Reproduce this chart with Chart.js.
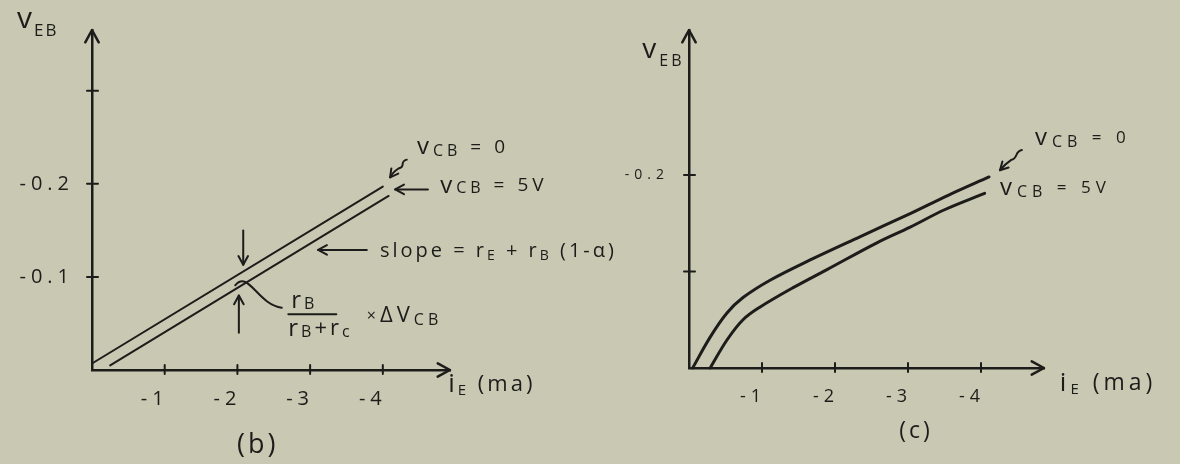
<!DOCTYPE html>
<html><head><meta charset="utf-8">
<script src="https://cdn.jsdelivr.net/npm/chart.js@4.4.1/dist/chart.umd.min.js"></script>
<style>
html,body{margin:0;padding:0;background:#c9c8b2;width:1180px;height:464px;overflow:hidden}
#b{position:absolute;left:0;top:0}
#c{position:absolute;left:580px;top:0}
</style></head><body>
<canvas id="c" width="600" height="464"></canvas>
<canvas id="b" width="660" height="464"></canvas>
<script>
// ---- data: panel (b), straight lines ----
const bIe0  = [0.0, -4.0];
const bVeb0 = [-0.007, -0.197];
const bIe5  = [-0.25, -4.08];
const bVeb5 = [-0.005, -0.187];
// ---- data: panel (c), curves ----
const cIe0  = [-0.05, -0.29, -0.52, -0.74, -1.11, -1.66, -2.34, -3.03, -3.55, -4.11];
const cVeb0 = [0, -0.032, -0.057, -0.073, -0.091, -0.112, -0.136, -0.160, -0.179, -0.198];
const cIe5  = [-0.29, -0.52, -0.74, -0.97, -1.42, -1.89, -2.58, -3.03, -3.50, -4.05];
const cVeb5 = [0, -0.029, -0.050, -0.063, -0.083, -0.102, -0.130, -0.146, -0.164, -0.181];
// ---- ticks ----
const bXTicks = [-1, -2, -3, -4];
const bXLabels = ['-1', '-2', '-3', '-4'];
const bYTicks = [-0.1, -0.2, -0.3];
const bYLabels = ['-0.1', '-0.2', ''];
const cXTicks = [-1, -2, -3, -4];
const cXLabels = ['-1', '-2', '-3', '-4'];
const cYTicks = [-0.1, -0.2];
const cYLabels = ['', '-0.2'];
const seriesNames = ['vCB = 0', 'vCB = 5V'];

const INK = '#1c1c1a';
const FONT = "'Open Sans', 'DejaVu Sans', sans-serif";

function pts(xs, ys){ return xs.map((x,i)=>({x:x, y:ys[i]})); }

function rich(ctx, x, y, parts, align, ls){
  ctx.save();
  ctx.fillStyle = INK;
  ctx.textBaseline = 'middle';
  ctx.textAlign = 'left';
  ctx.letterSpacing = (ls===undefined?3:ls)+'px';
  let w = 0;
  parts.forEach(p=>{ ctx.font = (p[1])+'px '+FONT; w += ctx.measureText(p[0]).width; });
  let cx = align === 'center' ? x - w/2 : x;
  parts.forEach(p=>{
    ctx.font = (p[1])+'px '+FONT;
    ctx.fillText(p[0], cx, y + (p[2]||0));
    cx += ctx.measureText(p[0]).width;
  });
  ctx.restore();
}
function head(ctx, x1, y1, x2, y2, len){
  const a = Math.atan2(y2-y1, x2-x1);
  ctx.beginPath();
  ctx.moveTo(x2 - len*Math.cos(a-0.5), y2 - len*Math.sin(a-0.5));
  ctx.lineTo(x2, y2);
  ctx.lineTo(x2 - len*Math.cos(a+0.5), y2 - len*Math.sin(a+0.5));
  ctx.stroke();
}
function arrow(ctx, x1, y1, x2, y2, len){
  ctx.beginPath(); ctx.moveTo(x1,y1); ctx.lineTo(x2,y2); ctx.stroke();
  head(ctx, x1, y1, x2, y2, len||10);
}
function squiggle(ctx, x1, y1, x2, y2){
  ctx.beginPath();
  ctx.moveTo(x1, y1);
  const mx = (x1+x2)/2, my = (y1+y2)/2;
  ctx.bezierCurveTo(x1-8, y1+2, mx+8, my-2, mx, my);
  ctx.quadraticCurveTo(mx-6, my+4, x2, y2);
  ctx.stroke();
  head(ctx, mx-4, my+3, x2, y2, 9);
}

function axesDeco(chart, xTicks, yTicks){
  const {ctx, scales:{x, y}} = chart;
  const ox = x.getPixelForValue(0), oy = y.getPixelForValue(0);
  ctx.save();
  ctx.strokeStyle = INK; ctx.lineWidth = 2.5; ctx.lineCap = 'round'; ctx.lineJoin = 'round';
  head(ctx, ox, oy, chart.chartArea.right, oy, 14);
  head(ctx, ox, oy, ox, chart.chartArea.top, 14);
  ctx.lineWidth = 2;
  xTicks.forEach(v=>{ const px = x.getPixelForValue(v); ctx.beginPath(); ctx.moveTo(px, oy-5); ctx.lineTo(px, oy+4); ctx.stroke(); });
  yTicks.forEach(v=>{ const py = y.getPixelForValue(v); ctx.beginPath(); ctx.moveTo(ox-5, py); ctx.lineTo(ox+6, py); ctx.stroke(); });
  ctx.restore();
}

const decoB = { id:'decoB',
  beforeDraw(chart){ chart.ctx.letterSpacing = '5px'; },
  afterDraw(chart){
  const {ctx, scales:{x, y}} = chart;
  const X = v=>x.getPixelForValue(v), Y = v=>y.getPixelForValue(v);
  axesDeco(chart, bXTicks, bYTicks);
  ctx.save();
  ctx.strokeStyle = INK; ctx.lineWidth = 2; ctx.lineCap = 'round'; ctx.lineJoin = 'round';
  rich(ctx, X(1.03), Y(-0.377), [['v',30],['EB',17,12]], 'left', 2);
  rich(ctx, X(-4.90), Y(0.016), [['i',26],['E',15,6],[' (ma)',22]], 'left', 3);
  rich(ctx, X(-2.28), Y(0.081), [['(b)',27]], 'center', 3);
  rich(ctx, X(-4.47), Y(-0.239), [['v',24],['CB',16,4],[' = 0',19]], 'left', 4);
  squiggle(ctx, X(-4.33), Y(-0.226), X(-4.10), Y(-0.207));
  rich(ctx, X(-4.79), Y(-0.198), [['v',24],['CB',16,3],[' = 5V',19]], 'left', 4);
  arrow(ctx, X(-4.62), Y(-0.194), X(-4.17), Y(-0.194), 10);
  arrow(ctx, X(-3.78), Y(-0.129), X(-3.11), Y(-0.129), 10);
  rich(ctx, X(-3.96), Y(-0.128), [['slope = r',20],['E',14,5],[' + r',20],['B',14,5],[' (1-α)',20]], 'left', 3);
  arrow(ctx, X(-2.08), Y(-0.150), X(-2.08), Y(-0.113), 10);
  arrow(ctx, X(-2.02), Y(-0.040), X(-2.02), Y(-0.080), 10);
  ctx.beginPath();
  ctx.moveTo(X(-1.97), Y(-0.091));
  ctx.bezierCurveTo(X(-2.15), Y(-0.108), X(-2.28), Y(-0.070), X(-2.61), Y(-0.067));
  ctx.stroke();
  rich(ctx, X(-2.74), Y(-0.074), [['r',24],['B',16,3]], 'left', 3);
  ctx.beginPath(); ctx.moveTo(X(-2.70), Y(-0.060)); ctx.lineTo(X(-3.36), Y(-0.060)); ctx.stroke();
  rich(ctx, X(-2.70), Y(-0.044), [['r',24],['B',16,3],['+r',22],['c',16,3]], 'left', 3);
  rich(ctx, X(-3.78), Y(-0.058), [['×',16],['Δ',22],['V',22],['CB',16,4]], 'left', 4);
  ctx.restore();
}};

const decoC = { id:'decoC',
  beforeDraw(chart){ chart.ctx.letterSpacing = '5px'; },
  afterDraw(chart){
  const {ctx, scales:{x, y}} = chart;
  const X = v=>x.getPixelForValue(v), Y = v=>y.getPixelForValue(v);
  axesDeco(chart, cXTicks, cYTicks);
  ctx.save();
  ctx.strokeStyle = INK; ctx.lineWidth = 2; ctx.lineCap = 'round'; ctx.lineJoin = 'round';
  rich(ctx, X(0.64), Y(-0.33), [['v',28],['EB',16,12]], 'left', 3);
  rich(ctx, X(-5.08), Y(0.016), [['i',26],['E',15,6],[' (ma)',23]], 'left', 4);
  rich(ctx, X(-3.11), Y(0.066), [['(c)',23]], 'center', 3);
  rich(ctx, X(-4.74), Y(-0.238), [['v',24],['CB',16,4],[' = 0',17]], 'left', 5);
  squiggle(ctx, X(-4.56), Y(-0.226), X(-4.26), Y(-0.205));
  rich(ctx, X(-4.26), Y(-0.186), [['v',24],['CB',16,4],[' = 5V',17]], 'left', 5);
  ctx.restore();
}};

function mkScale(min, max, ticks, labels, pad, fixed, isX, fontSize, labelOffset){
  return {
    type:'linear', min:min, max:max, reverse:true,
    afterBuildTicks(s){ s.ticks = ticks.map(v=>({value:v})); },
    afterFit(s){ if(isX) s.height = fixed; else s.width = fixed; },
    grid:{ display:true, drawOnChartArea:false, drawTicks:false },
    border:{ display:true, color:INK, width:2.5 },
    ticks:{ autoSkip:false, maxRotation:0, padding:pad, color:INK, labelOffset:labelOffset||0,
      font:{ family:FONT, size:fontSize },
      callback:(v,i)=>labels[i] }
  };
}

function make(id, datasets, scales, padding, plugin){
  return new Chart(document.getElementById(id), {
    type:'scatter',
    data:{ datasets:datasets },
    options:{
      responsive:false, animation:false,
      layout:{ padding:padding },
      plugins:{ legend:{display:false}, tooltip:{enabled:false} },
      scales:scales
    },
    plugins:[plugin]
  });
}

const lineStyle = (w, t)=>({ showLine:true, borderColor:INK, borderWidth:w, pointRadius:0, tension:t, cubicInterpolationMode:'default', clip:false, borderCapStyle:'round' });

make('b', [
  Object.assign({label:seriesNames[0], data:pts(bIe0, bVeb0)}, lineStyle(2, 0)),
  Object.assign({label:seriesNames[1], data:pts(bIe5, bVeb5)}, lineStyle(2, 0))
], {
  x: mkScale(-4.924, 0, bXTicks, bXLabels, 17, 94, true, 20, -10),
  y: mkScale(-0.3653, 0, bYTicks, bYLabels, 18, 92, false, 20)
}, {top:23, right:210, left:0, bottom:0}, decoB);

make('c', [
  Object.assign({label:seriesNames[0], data:pts(cIe0, cVeb0)}, lineStyle(3, 0.35)),
  Object.assign({label:seriesNames[1], data:pts(cIe5, cVeb5)}, lineStyle(3, 0.35))
], {
  x: mkScale(-4.863, 0, cXTicks, cXLabels, 18, 96, true, 18, -9),
  y: mkScale(-0.3503, 0, cYTicks, cYLabels, 20, 109, false, 14)
}, {top:30, right:136, left:0, bottom:0}, decoC);
</script>
</body></html>
